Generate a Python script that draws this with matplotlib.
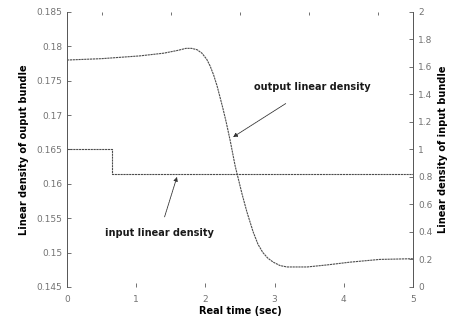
import numpy as np
import matplotlib
matplotlib.use("Agg")
import matplotlib.pyplot as plt

# output bundle linear density (left axis)
t_out = [0.0, 0.5, 1.05, 1.4, 1.6, 1.72, 1.8, 1.88, 1.95, 2.02, 2.07, 2.12,
         2.17, 2.25, 2.3, 2.36, 2.43, 2.53, 2.6, 2.69, 2.76, 2.83, 2.9, 2.98,
         3.08, 3.18, 3.47, 3.76, 4.09, 4.52, 5.0]
d_out = [0.1780, 0.1782, 0.1786, 0.1790, 0.1794, 0.1797, 0.1797, 0.1795, 0.1790,
         0.1781, 0.1771, 0.1758, 0.1742, 0.1711, 0.1690, 0.1662, 0.1626, 0.1585,
         0.1559, 0.1530, 0.1512, 0.1500, 0.1492, 0.1486, 0.1481, 0.1479, 0.1479,
         0.1482, 0.1486, 0.1490, 0.1491]

# input bundle linear density (right axis)
t_in = [0.0, 0.65, 0.65, 5.0]
d_in = [1.0, 1.0, 0.82, 0.82]

left_ticks = [0.145, 0.15, 0.155, 0.16, 0.165, 0.17, 0.175, 0.18, 0.185]
left_labels = ["0.145", "0.15", "0.155", "0.16", "0.165", "0.17", "0.175", "0.18", "0.185"]
right_ticks = [0, 0.2, 0.4, 0.6, 0.8, 1, 1.2, 1.4, 1.6, 1.8, 2]
right_labels = ["0", "0.2", "0.4", "0.6", "0.8", "1", "1.2", "1.4", "1.6", "1.8", "2"]
x_ticks = [0, 1, 2, 3, 4, 5]

plt.rcParams['font.family'] = ['DejaVu Sans']
fig = plt.figure(figsize=(4.49, 3.22), dpi=100)
ax = fig.add_axes([0.149, 0.109, 0.771, 0.854])
ax2 = ax.twinx()

lc = '0.3'
ax.plot(t_out, d_out, color=lc, lw=0.8, linestyle=(0, (2, 0.6)))
ax2.plot(t_in, d_in, color=lc, lw=0.8, linestyle=(0, (2, 0.6)))

ax.set_xlim(0, 5)
ax.set_ylim(0.145, 0.185)
ax2.set_ylim(0, 2)
ax.set_xticks(x_ticks)
ax.set_xticks(np.arange(0, 5.01, 0.5), minor=True)
ax.set_yticks(left_ticks)
ax.set_yticklabels(left_labels)
ax2.set_yticks(right_ticks)
ax2.set_yticklabels(right_labels)

for a in (ax, ax2):
    for s in ('top', 'bottom'):
        a.spines[s].set_visible(False)
    for s in ('left', 'right'):
        a.spines[s].set_color('0.35')
        a.spines[s].set_linewidth(0.7)
    a.tick_params(direction='in', length=3, width=0.6, colors='0.35',
                  labelsize=6.5, labelcolor='0.45')

ax.tick_params(axis='x', which='minor', top=True, bottom=False, length=2,
               direction='in', width=0.6, colors='0.35')
ax.tick_params(axis='x', which='major', top=False, pad=6)

ax.set_xlabel("Real time (sec)", fontsize=7, fontweight='bold', labelpad=1)
ax.set_ylabel("Linear density of ouput bundle", fontsize=7, fontweight='bold', labelpad=5)
ax2.set_ylabel("Linear density of input bundle", fontsize=7, fontweight='bold', labelpad=4)

ax.annotate("output linear density", xy=(2.40, 0.1668), xytext=(3.54, 0.1741),
            fontsize=7, fontweight='bold', ha='center', va='center', color='0.1',
            arrowprops=dict(arrowstyle='-|>', color='0.2', lw=0.6,
                            mutation_scale=6, shrinkA=12, shrinkB=0,
                            linestyle=(0, (2, 0.8))))
ax.annotate("input linear density", xy=(1.59, 0.1610), xytext=(1.34, 0.1529),
            fontsize=7, fontweight='bold', ha='center', va='center', color='0.1',
            arrowprops=dict(arrowstyle='-|>', color='0.2', lw=0.6,
                            mutation_scale=6, shrinkA=6, shrinkB=0,
                            linestyle=(0, (2, 0.8))))

fig.savefig("out.png", dpi=100)
